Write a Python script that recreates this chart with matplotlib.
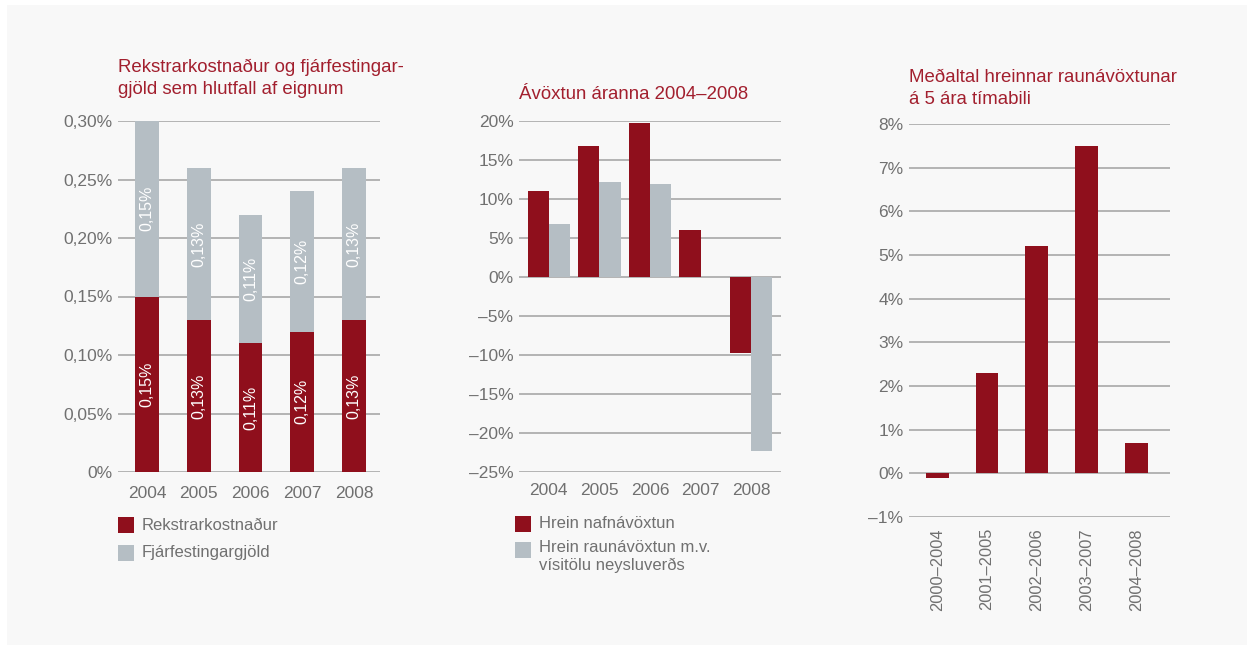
import numpy as np
import matplotlib.pyplot as plt
from matplotlib.patches import Rectangle

# data
years = ['2004', '2005', '2006', '2007', '2008']
rekstrar = [0.15, 0.13, 0.11, 0.12, 0.13]
fjarfest = [0.15, 0.13, 0.11, 0.12, 0.13]
rekstrar_lbl = ['0,15%', '0,13%', '0,11%', '0,12%', '0,13%']
fjarfest_lbl = ['0,15%', '0,13%', '0,11%', '0,12%', '0,13%']

nafn = [11.0, 16.8, 19.7, 6.0, -9.8]
raun = [6.8, 12.1, 11.9, 0.0, -22.4]

periods = ['2000–2004', '2001–2005', '2002–2006', '2003–2007', '2004–2008']
medaltal = [-0.1, 2.3, 5.2, 7.5, 0.7]

y1_ticks = [0, 0.05, 0.10, 0.15, 0.20, 0.25, 0.30]
y1_labels = ['0%', '0,05%', '0,10%', '0,15%', '0,20%', '0,25%', '0,30%']
y2_ticks = [20, 15, 10, 5, 0, -5, -10, -15, -20, -25]
y2_labels = ['20%', '15%', '10%', '5%', '0%', '–5%', '–10%', '–15%', '–20%', '–25%']
y3_ticks = [8, 7, 6, 5, 4, 3, 2, 1, 0, -1]
y3_labels = ['8%', '7%', '6%', '5%', '4%', '3%', '2%', '1%', '0%', '–1%']

RED = '#8f0f1c'
GREY = '#b5bec4'
TITLE = '#a21f2e'
TXT = '#707070'
GRID = '#a8a8a8'
BG = '#f8f8f8'

plt.rcParams['font.family'] = ['Liberation Sans Narrow', 'Liberation Sans', 'DejaVu Sans']

W, H = 1253, 648
fig = plt.figure(figsize=(W / 100, H / 100), dpi=100, facecolor='white')
fig.add_artist(Rectangle((7 / W, 1 - 645 / H), 1240 / W, 640 / H,
                         transform=fig.transFigure, facecolor=BG, edgecolor='none', zorder=-10))


def fx(px):
    return px / W


def fy(py):
    return 1 - py / H


def make_ax(l, r, t, b):
    ax = fig.add_axes([fx(l), fy(b), fx(r) - fx(l), fy(t) - fy(b)])
    ax.set_facecolor('none')
    for s in ax.spines.values():
        s.set_visible(False)
    ax.tick_params(axis='both', length=0, colors=TXT, labelsize=12.5)
    ax.yaxis.grid(True, color=GRID, linewidth=1.2)
    ax.set_axisbelow(True)
    return ax


def legend_box(x, y, color, text):
    # small square + label, placed in pixel coords
    fig.add_artist(Rectangle((fx(x), fy(y + 8)), 16 / W, 16 / H, transform=fig.transFigure,
                             facecolor=color, edgecolor='none'))
    fig.text(fx(x + 24), fy(y), text, ha='left', va='center', fontsize=12, color=TXT)


# chart 1 - stacked
ax1 = make_ax(118, 380, 121, 472)
x = np.arange(len(years))
ax1.bar(x, rekstrar, 0.46, color=RED, zorder=3)
ax1.bar(x, fjarfest, 0.46, bottom=rekstrar, color=GREY, zorder=3)
for i in range(len(years)):
    ax1.text(x[i], rekstrar[i] / 2, rekstrar_lbl[i], rotation=90, ha='center', va='center',
             color='white', fontsize=11.5, zorder=4)
    ax1.text(x[i], rekstrar[i] + fjarfest[i] / 2, fjarfest_lbl[i], rotation=90, ha='center',
             va='center', color='white', fontsize=11.5, zorder=4)
ax1.set_ylim(0, 0.30)
ax1.set_xlim(-0.56, 4.5)
ax1.set_yticks(y1_ticks)
ax1.set_yticklabels(y1_labels)
ax1.set_xticks(x)
ax1.set_xticklabels(years)
ax1.tick_params(axis='x', pad=10)
ax1.tick_params(axis='y', pad=4)
fig.text(fx(118), fy(59), 'Rekstrarkostnaður og fjárfestingar-\ngjöld sem hlutfall af eignum',
         ha='left', va='top', fontsize=13.4, color=TITLE, linespacing=1.35)
legend_box(118, 525, RED, 'Rekstrarkostnaður')
legend_box(118, 553, GREY, 'Fjárfestingargjöld')

# chart 2 - grouped
ax2 = make_ax(519, 781, 120.7, 471.7)
bw = 0.42
ax2.bar(x - bw / 2, nafn, bw, color=RED, zorder=3)
ax2.bar(x + bw / 2, raun, bw, color=GREY, zorder=3)
ax2.set_ylim(-25, 20)
ax2.set_xlim(-0.59, 4.59)
ax2.set_yticks(y2_ticks)
ax2.set_yticklabels(y2_labels)
ax2.set_xticks(x)
ax2.set_xticklabels(years)
ax2.tick_params(axis='x', pad=8)
ax2.tick_params(axis='y', pad=4)
fig.text(fx(519), fy(86), 'Ávöxtun áranna 2004–2008', ha='left', va='top',
         fontsize=13.4, color=TITLE)
legend_box(515, 524, RED, 'Hrein nafnávöxtun')
fig.add_artist(Rectangle((fx(515), fy(558)), 16 / W, 16 / H, transform=fig.transFigure,
                         facecolor=GREY, edgecolor='none'))
fig.text(fx(539), fy(540), 'Hrein raunávöxtun m.v.\nvísitölu neysluverðs', ha='left',
         va='top', fontsize=12, color=TXT, linespacing=1.25)

# chart 3
ax3 = make_ax(909, 1170, 124, 517)
ax3.bar(x, medaltal, 0.46, color=RED, zorder=3)
ax3.set_ylim(-1, 8)
ax3.set_xlim(-0.57, 4.68)
ax3.set_yticks(y3_ticks)
ax3.set_yticklabels(y3_labels)
ax3.set_xticks(x)
ax3.set_xticklabels(periods, rotation=90, fontsize=11.8)
ax3.tick_params(axis='x', pad=8)
ax3.tick_params(axis='y', pad=4)
fig.text(fx(909), fy(69), 'Meðaltal hreinnar raunávöxtunar\ná 5 ára tímabili', ha='left',
         va='top', fontsize=13.4, color=TITLE, linespacing=1.35)

fig.savefig('out.png', dpi=100, facecolor='white')
